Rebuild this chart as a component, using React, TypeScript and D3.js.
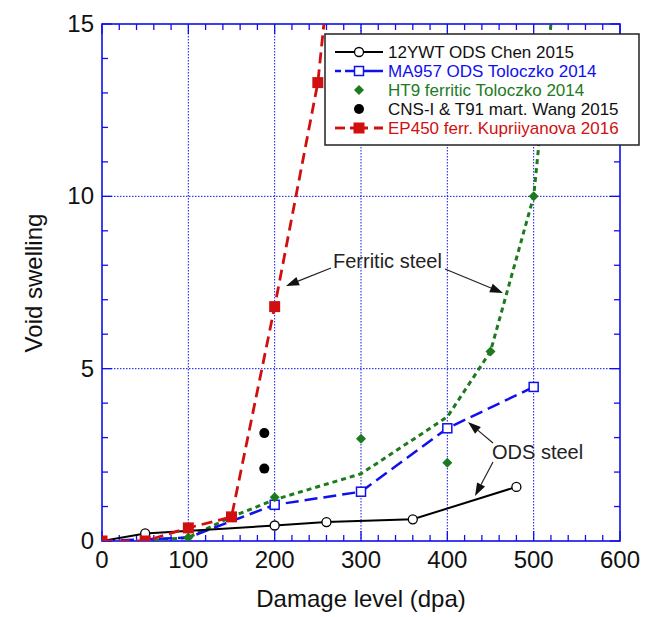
import React from "react";
import * as d3 from "d3";

type P = [number, number];

// 12YWT ODS Chen 2015 (black solid, open circles)
const chenX = [0, 50, 200, 260, 360, 480];
const chenY = [0, 0.22, 0.45, 0.55, 0.63, 1.57];
// MA957 ODS Toloczko 2014 (blue dashed, open squares)
const ma957X = [0, 100, 200, 300, 400, 500];
const ma957Y = [0, 0.1, 1.05, 1.43, 3.27, 4.47];
const ma957MarkX = [200, 300, 400, 500];
const ma957MarkY = [1.05, 1.43, 3.27, 4.47];
// HT9 ferritic Toloczko 2014 (green markers + dotted trend)
const ht9X = [0, 100, 200, 300, 400, 450, 500];
const ht9Y = [0, 0.1, 1.27, 2.97, 2.27, 5.5, 10];
const ht9TrendX = [50, 100, 150, 200, 300, 400, 450, 500, 520];
const ht9TrendY = [0, 0.1, 0.7, 1.2, 1.95, 3.6, 5.5, 10, 15];
// CNS-I & T91 mart. Wang 2015 (black filled circles)
const cnsX = [188, 188];
const cnsY = [3.13, 2.1];
// EP450 ferr. Kupriiyanova 2016 (red dashed, filled squares)
const epX = [0, 50, 100, 150, 200, 250];
const epY = [0, 0, 0.38, 0.7, 6.8, 13.3];
const epTrendX = [0, 50, 100, 150, 200, 250, 257];
const epTrendY = [0, 0, 0.38, 0.7, 6.8, 13.3, 15];

const xTicks = [0, 100, 200, 300, 400, 500, 600];
const yTicks = [0, 5, 10, 15];

const legendLabels = [
  "12YWT ODS Chen 2015",
  "MA957 ODS Toloczko 2014",
  "HT9 ferritic Toloczko 2014",
  "CNS-I  & T91 mart. Wang 2015",
  "EP450 ferr. Kupriiyanova 2016",
];

const zip = (xs: number[], ys: number[]): P[] => xs.map((x, i) => [x, ys[i]]);

const BLUE = "#1010ee";
const GREEN = "#1e7a1e";
const RED = "#d01010";
const FONT = "Liberation Sans, Arial, Helvetica, sans-serif";

export default function App() {
  const W = 654, H = 617;
  const L = 102, R = 620, T = 24, B = 541;
  const x = d3.scaleLinear().domain([0, 600]).range([L, R]);
  const y = d3.scaleLinear().domain([0, 15]).range([B, T]);
  const line = d3.line<P>().x((d) => x(d[0])).y((d) => y(d[1]));

  const xMinor = d3.range(0, 601, 20).filter((v) => v % 100 !== 0);
  const yMinor = d3.range(0, 16, 1).filter((v) => v % 5 !== 0);

  const square = (cx: number, cy: number, s: number, fill: string, stroke: string, key: any, sw = 1.5) => (
    <rect key={key} x={cx - s / 2} y={cy - s / 2} width={s} height={s} fill={fill} stroke={stroke} strokeWidth={sw} />
  );
  const diamond = (cx: number, cy: number, s: number, key: any) => (
    <path key={key} d={`M${cx},${cy - s}L${cx + s},${cy}L${cx},${cy + s}L${cx - s},${cy}Z`} fill={GREEN} />
  );

  const legX = 325, legY = 34, legW = 314, legH = 111;
  const rowY = [52, 71, 90, 109, 128];

  const arrow = (x1: number, y1: number, x2: number, y2: number, key: string) => {
    const ang = Math.atan2(y2 - y1, x2 - x1);
    const len = 13, wd = 4.5;
    const bx = x2 - len * Math.cos(ang), by = y2 - len * Math.sin(ang);
    const px = -Math.sin(ang) * wd, py = Math.cos(ang) * wd;
    return (
      <g key={key}>
        <line x1={x1} y1={y1} x2={bx} y2={by} stroke="#222" strokeWidth={1.2} />
        <path d={`M${x2},${y2}L${bx + px},${by + py}L${bx - px},${by - py}Z`} fill="#111" />
      </g>
    );
  };

  return (
    <svg width={W} height={H} style={{ position: "absolute", left: 0, top: 0, background: "#fff" }} fontFamily={FONT}>
      <defs>
        <clipPath id="plot">
          <rect x={L} y={T} width={R - L} height={B - T} />
        </clipPath>
      </defs>
      {/* grid */}
      {xTicks.filter((v) => v > 0 && v < 600).map((v) => (
        <line key={"gx" + v} x1={x(v)} x2={x(v)} y1={T} y2={B} stroke={BLUE} strokeWidth={1} strokeDasharray="1.5,1.5" />
      ))}
      {yTicks.filter((v) => v > 0 && v < 15).map((v) => (
        <line key={"gy" + v} x1={L} x2={R} y1={y(v)} y2={y(v)} stroke={BLUE} strokeWidth={1} strokeDasharray="1.5,1.5" />
      ))}
      {/* ticks */}
      {xTicks.map((v) => (
        <g key={"tx" + v}>
          <line x1={x(v)} x2={x(v)} y1={B} y2={B - 10} stroke={BLUE} strokeWidth={1.3} />
          <line x1={x(v)} x2={x(v)} y1={T} y2={T + 10} stroke={BLUE} strokeWidth={1.3} />
        </g>
      ))}
      {xMinor.map((v) => (
        <g key={"mx" + v}>
          <line x1={x(v)} x2={x(v)} y1={B} y2={B - 6} stroke={BLUE} strokeWidth={1.3} />
          <line x1={x(v)} x2={x(v)} y1={T} y2={T + 6} stroke={BLUE} strokeWidth={1.3} />
        </g>
      ))}
      {yTicks.map((v) => (
        <g key={"ty" + v}>
          <line x1={L} x2={L + 10} y1={y(v)} y2={y(v)} stroke={BLUE} strokeWidth={1.3} />
          <line x1={R} x2={R - 10} y1={y(v)} y2={y(v)} stroke={BLUE} strokeWidth={1.3} />
        </g>
      ))}
      {yMinor.map((v) => (
        <g key={"my" + v}>
          <line x1={L} x2={L + 6} y1={y(v)} y2={y(v)} stroke={BLUE} strokeWidth={1.3} />
          <line x1={R} x2={R - 6} y1={y(v)} y2={y(v)} stroke={BLUE} strokeWidth={1.3} />
        </g>
      ))}
      <rect x={L} y={T} width={R - L} height={B - T} fill="none" stroke={BLUE} strokeWidth={1.6} />

      {/* tick labels */}
      {xTicks.map((v) => (
        <text key={"lx" + v} x={x(v)} y={B + 27} fontSize={24} textAnchor="middle" fill="#111">{v}</text>
      ))}
      {yTicks.map((v) => (
        <text key={"ly" + v} x={L - 8} y={y(v) + 8} fontSize={24} textAnchor="end" fill="#111">{v}</text>
      ))}
      <text x={361} y={607} fontSize={24} textAnchor="middle" fill="#111">Damage level (dpa)</text>
      <text transform={`translate(42,283) rotate(-90)`} fontSize={24} textAnchor="middle" fill="#111">Void swelling</text>

      {/* series */}
      <g clipPath="url(#plot)">
        <path d={line(zip(ht9TrendX, ht9TrendY)) || ""} fill="none" stroke={GREEN} strokeWidth={3} strokeDasharray="5,4" />
        <path d={line(zip(ma957X, ma957Y)) || ""} fill="none" stroke={BLUE} strokeWidth={2.5} strokeDasharray="13,6" />
        <path d={line(zip(chenX, chenY)) || ""} fill="none" stroke="#000" strokeWidth={2} />
        <path d={line(zip(epTrendX, epTrendY)) || ""} fill="none" stroke={RED} strokeWidth={2.8} strokeDasharray="11,6" />
        {zip(chenX, chenY).map((d, i) => (
          <circle key={"c" + i} cx={x(d[0])} cy={y(d[1])} r={4.5} fill="#fff" stroke="#000" strokeWidth={1.3} />
        ))}
        {zip(ma957MarkX, ma957MarkY).map((d, i) => square(x(d[0]), y(d[1]), 9, "#fff", BLUE, "s" + i, 1.5))}
        {zip(ht9X, ht9Y).map((d, i) => diamond(x(d[0]), y(d[1]), 5, "d" + i))}
        {zip(cnsX, cnsY).map((d, i) => (
          <circle key={"w" + i} cx={x(d[0])} cy={y(d[1])} r={5} fill="#000" />
        ))}
        {zip(epX, epY).map((d, i) => square(x(d[0]), y(d[1]), 11, RED, RED, "r" + i, 0))}
      </g>

      {/* annotations */}
      <text x={333} y={268} fontSize={20} fill="#222">Ferritic steel</text>
      {arrow(331, 268, 286, 286, "a1")}
      {arrow(445, 269, 503, 293, "a2")}
      <text x={492} y={459} fontSize={20} fill="#222">ODS steel</text>
      {arrow(493, 443, 468, 422, "a3")}
      {arrow(493, 462, 475, 496, "a4")}

      {/* legend */}
      <rect x={legX} y={legY} width={legW} height={legH} fill="#fff" stroke="#222" strokeWidth={1.5} />
      <line x1={335} x2={383} y1={rowY[0]} y2={rowY[0]} stroke="#000" strokeWidth={2} />
      <circle cx={359} cy={rowY[0]} r={4.5} fill="#fff" stroke="#000" strokeWidth={1.3} />
      <line x1={345} x2={383} y1={rowY[1]} y2={rowY[1]} stroke={BLUE} strokeWidth={2.5} />
      <line x1={335} x2={341} y1={rowY[1]} y2={rowY[1]} stroke={BLUE} strokeWidth={2.5} />
      {square(359, rowY[1], 9, "#fff", BLUE, "ls", 1.5)}
      {diamond(359, rowY[2], 5, "ld")}
      <circle cx={359} cy={rowY[3]} r={5} fill="#000" />
      <line x1={335} x2={345} y1={rowY[4]} y2={rowY[4]} stroke={RED} strokeWidth={2.8} />
      <line x1={350} x2={383} y1={rowY[4]} y2={rowY[4]} stroke={RED} strokeWidth={2.8} strokeDasharray="18,6" />
      {square(359, rowY[4], 11, RED, RED, "lr", 0)}
      {legendLabels.map((t, i) => (
        <text key={"lg" + i} x={388} y={rowY[i] + 6} fontSize={17}
          fill={[ "#111", BLUE, GREEN, "#111", RED ][i]}>{t}</text>
      ))}
    </svg>
  );
}
